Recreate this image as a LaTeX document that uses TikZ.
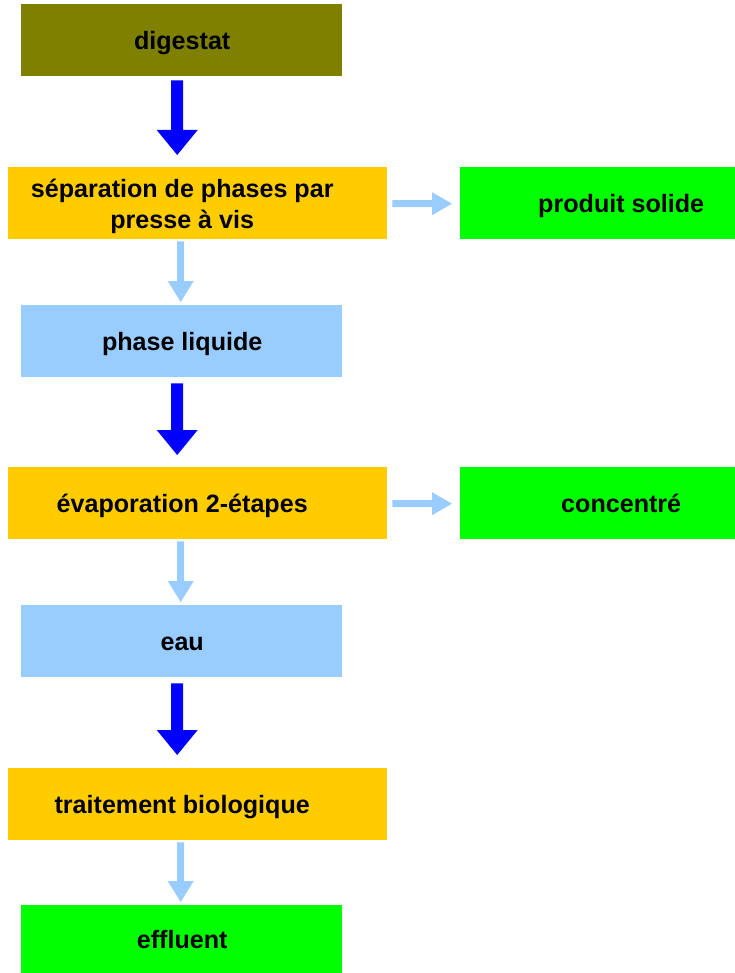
\documentclass[tikz,border=0pt]{standalone}
\usepackage{fontspec}
\setmainfont{Liberation Sans}
\usetikzlibrary{calc}
\definecolor{olivebox}{HTML}{808000}
\definecolor{orangebox}{HTML}{FFCC00}
\definecolor{greenbox}{HTML}{00FF00}
\definecolor{paleblue}{HTML}{99CCFF}
\definecolor{strongblue}{HTML}{0000FF}

% vertical block arrow: from node, to node, x offset, top gap, bottom gap,
% shaft half width, head half width, head length, colour
\newcommand\vblockarrow[9]{%
  \fill[#9] let \p1=(#1.south), \p2=(#2.north) in
    (\x1+#3-#6,\y1-#4) -- (\x1+#3+#6,\y1-#4) -- (\x1+#3+#6,\y2+#5+#8)
    -- (\x1+#3+#7,\y2+#5+#8) -- (\x1+#3,\y2+#5) -- (\x1+#3-#7,\y2+#5+#8)
    -- (\x1+#3-#6,\y2+#5+#8) -- cycle;}
% horizontal block arrow: from node, to node, y offset, left gap, right gap,
% shaft half width, head half width, head length, colour
\newcommand\hblockarrow[9]{%
  \fill[#9] let \p1=(#1.east), \p2=(#2.west) in
    (\x1+#4,\y1+#3+#6) -- (\x2-#5-#8,\y1+#3+#6) -- (\x2-#5-#8,\y1+#3+#7)
    -- (\x2-#5,\y1+#3) -- (\x2-#5-#8,\y1+#3-#7) -- (\x2-#5-#8,\y1+#3-#6)
    -- (\x1+#4,\y1+#3-#6) -- cycle;}

\tikzset{
  box/.style={rectangle, draw=none, inner sep=0pt, anchor=north west},
  narrowbox/.style={box, minimum width=321pt, minimum height=72pt},
  widebox/.style={box, minimum width=379pt, minimum height=72pt},
  sidebox/.style={box, minimum width=275pt, minimum height=72pt},
  label/.style={anchor=base, inner sep=0pt, align=center,
    font=\fontsize{25.1}{31}\selectfont\bfseries},
}

\begin{document}
\begin{tikzpicture}[x=1pt,y=-1pt]
\useasboundingbox (0,0) rectangle (735,973);

% boxes
\node[narrowbox, fill=olivebox]  (dig)  at (21,4)   {};
\node[widebox,   fill=orangebox] (sep)  at (8,167)  {};
\node[sidebox,   fill=greenbox]  (sol)  at (460,167) {};
\node[narrowbox, fill=paleblue]  (liq)  at (21,305) {};
\node[widebox,   fill=orangebox] (evap) at (8,467)  {};
\node[sidebox,   fill=greenbox]  (conc) at (460,467) {};
\node[narrowbox, fill=paleblue]  (eau)  at (21,605) {};
\node[widebox,   fill=orangebox] (bio)  at (8,768)  {};
\node[narrowbox, fill=greenbox, minimum height=68pt] (eff) at (21,905) {};

% labels (a two-line label sits on the baseline of its last line)
\node[label] (tdig)  at ($(dig.center)+(0.5,9)$)   {digestat};
\node[label] (tsep)  at ($(sep.center)+(-15.5,25)$) {séparation de phases par\\presse à vis};
\node[label] (tsol)  at ($(sol.center)+(23.5,9)$)   {produit solide};
\node[label] (tliq)  at ($(liq.center)+(0.5,9)$)   {phase liquide};
\node[label] (tevap) at ($(evap.center)+(-15.5,9)$) {évaporation 2-étapes};
\node[label] (tconc) at ($(conc.center)+(23.5,9)$)  {concentré};
\node[label] (teau)  at ($(eau.center)+(0.5,9)$)   {eau};
\node[label] (tbio)  at ($(bio.center)+(-15.5,9)$)  {traitement biologique};
\node[label] (teff)  at ($(eff.center)+(0.5,9)$)   {effluent};

% strong blue arrows
\vblockarrow{dig}{sep}{-4.5pt}{4pt}{12pt}{6pt}{20.5pt}{25pt}{strongblue}
\vblockarrow{liq}{evap}{-4.5pt}{6pt}{12pt}{6pt}{20.5pt}{25pt}{strongblue}
\vblockarrow{eau}{bio}{-4.5pt}{6pt}{13pt}{6pt}{20.5pt}{25pt}{strongblue}

% pale blue arrows
\vblockarrow{sep}{liq}{-17pt}{2pt}{3pt}{3.5pt}{13pt}{21pt}{paleblue}
\vblockarrow{evap}{eau}{-17pt}{2pt}{3pt}{3.5pt}{13pt}{21pt}{paleblue}
\vblockarrow{bio}{eff}{-17pt}{2pt}{3pt}{3.5pt}{13pt}{21pt}{paleblue}
\hblockarrow{sep}{sol}{-0.5pt}{5pt}{8pt}{3.5pt}{11.5pt}{20pt}{paleblue}
\hblockarrow{evap}{conc}{-0.5pt}{5pt}{8pt}{3.5pt}{11.5pt}{20pt}{paleblue}
\end{tikzpicture}
\end{document}
